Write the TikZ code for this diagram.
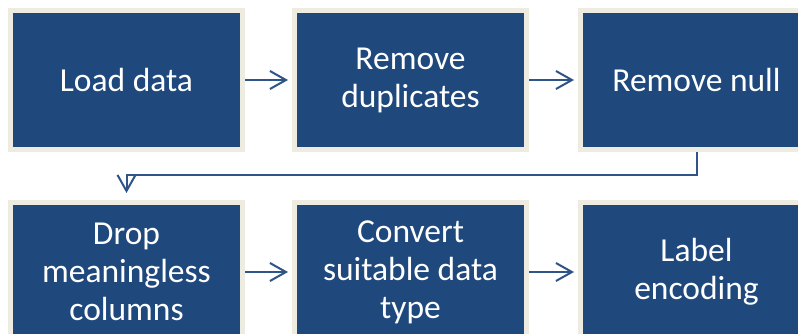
\documentclass[tikz,border=0pt]{standalone}
\usepackage{fontspec}
\setmainfont{Carlito}
\usetikzlibrary{arrows.meta}
\definecolor{boxblue}{RGB}{31,73,125}
\definecolor{boxrim}{RGB}{238,236,225}
\definecolor{flow}{RGB}{46,84,136}
\begin{document}
\begin{tikzpicture}[x=1pt,y=-1pt,
  stage/.style={rectangle, fill=boxblue, draw=boxrim, line width=5pt,
    minimum width=232pt, minimum height=139pt, inner sep=0pt,
    text=white, align=center, font=\fontsize{33.5}{38}\selectfont},
  flowline/.style={draw=flow, line width=2pt,
    -{Straight Barb[length=16pt,width=18pt,line width=2pt]}}]
\useasboundingbox (0,0) rectangle (798,333);
\clip (0,0) rectangle (798,333);
\fill[white] (0,0) rectangle (798,333);

% first row
\node[stage] (load) at (126.5,80) {Load data};
\node[stage] (dup)  at (410.5,80) {Remove\\duplicates};
\node[stage] (null) at (696.5,80) {Remove null};

% second row
\node[stage] (drop) at (126.5,272) {Drop\\meaningless\\columns};
\node[stage] (conv) at (410.5,272) {Convert\\suitable data\\type};
\node[stage] (enc)  at (696.5,272) {Label\\encoding};

% connectors
\draw[flowline, shorten >=4pt] (load.east) -- (dup.west);
\draw[flowline, shorten >=4pt] (dup.east) -- (null.west);
\draw[flowline, shorten >=7pt] (null.south) -- ++(0,23) -| (drop.north);
\draw[flowline, shorten >=4pt] (drop.east) -- (conv.west);
\draw[flowline, shorten >=4pt] (conv.east) -- (enc.west);
\end{tikzpicture}
\end{document}
